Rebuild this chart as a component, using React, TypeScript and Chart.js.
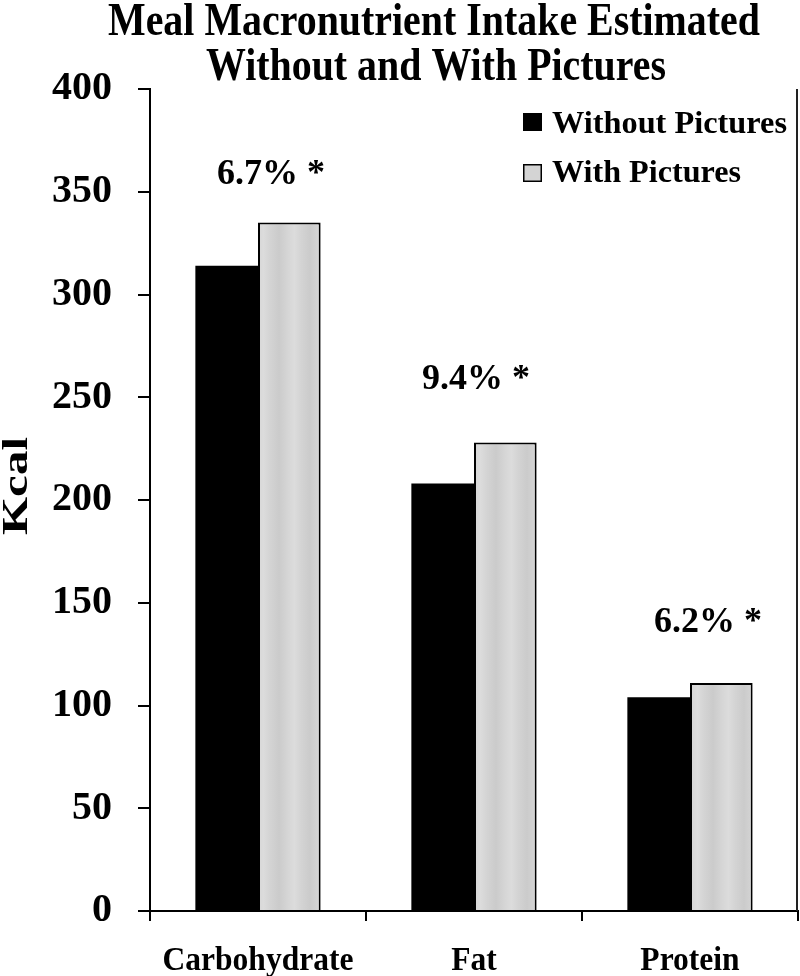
import React, { useEffect, useRef } from "react";
import { Chart, registerables } from "chart.js";

Chart.register(...registerables);

// ---------- data ----------
const categories = ["Carbohydrate", "Fat", "Protein"];
const seriesNames = ["Without Pictures", "With Pictures"];
const withoutPictures = [314, 208, 104];
const withPictures = [335, 228, 111];
const diffLabels = ["6.7% *", "9.4% *", "6.2% *"];
const diffLabelValues = [354, 254, 136]; // kcal level of label baseline
const diffLabelShift = [13, 2, 18]; // px shift from category centre
const titleLines = ["Meal Macronutrient Intake Estimated", "Without and With Pictures"];
const yAxisTitle = "Kcal";
const yMin = 0;
const yMax = 400;
const yStep = 50;

const FONT = '"Liberation Serif", "Times New Roman", serif';

function makeStripePattern(): CanvasPattern | string {
  const c = document.createElement("canvas");
  c.width = 31;
  c.height = 4;
  const g = c.getContext("2d");
  if (!g) return "#d2d2d2";
  const grad = g.createLinearGradient(0, 0, 31, 0);
  grad.addColorStop(0, "#cbcbcb");
  grad.addColorStop(0.3, "#d6d6d6");
  grad.addColorStop(0.5, "#dcdcdc");
  grad.addColorStop(0.7, "#d4d4d4");
  grad.addColorStop(1, "#cbcbcb");
  g.fillStyle = grad;
  g.fillRect(0, 0, 31, 4);
  const p = g.createPattern(c, "repeat");
  return p || "#d2d2d2";
}

function drawText(
  ctx: CanvasRenderingContext2D,
  text: string,
  x: number,
  y: number,
  size: number,
  align: CanvasTextAlign,
  sx = 1
) {
  ctx.save();
  ctx.font = `bold ${size}px ${FONT}`;
  ctx.fillStyle = "#000";
  ctx.textBaseline = "alphabetic";
  ctx.textAlign = align;
  ctx.translate(x, y);
  ctx.scale(sx, 1);
  ctx.fillText(text, 0, 0);
  ctx.restore();
}

function fitScale(ctx: CanvasRenderingContext2D, text: string, size: number, target: number) {
  ctx.save();
  ctx.font = `bold ${size}px ${FONT}`;
  const w = ctx.measureText(text).width;
  ctx.restore();
  return w > 0 ? target / w : 1;
}

const decorPlugin = {
  id: "decor",
  afterDraw(chart: any) {
    const ctx: CanvasRenderingContext2D = chart.ctx;
    const area = chart.chartArea;
    const xs = chart.scales.x;
    const ys = chart.scales.y;

    // right frame line
    ctx.save();
    ctx.strokeStyle = "#222";
    ctx.lineWidth = 2;
    ctx.beginPath();
    ctx.moveTo(area.right - 1, area.top);
    ctx.lineTo(area.right - 1, area.bottom);
    ctx.stroke();
    ctx.restore();

    // title
    const tsx = fitScale(ctx, titleLines[0], 46, 652);
    drawText(ctx, titleLines[0], 434, 35, 46, "center", tsx);
    drawText(ctx, titleLines[1], 436, 80, 46, "center", tsx);

    // y axis title (rotated)
    ctx.save();
    ctx.font = `bold 36px ${FONT}`;
    const kw = ctx.measureText(yAxisTitle).width;
    ctx.translate(27, 486);
    ctx.rotate(-Math.PI / 2);
    ctx.scale(98 / kw, 1);
    ctx.textAlign = "center";
    ctx.textBaseline = "alphabetic";
    ctx.fillStyle = "#000";
    ctx.fillText(yAxisTitle, 0, 0);
    ctx.restore();

    // x category labels
    const xsx = fitScale(ctx, categories[0], 34, 191);
    categories.forEach((c, i) => {
      drawText(ctx, c, xs.getPixelForValue(i), 970, 34, "center", xsx);
    });

    // difference labels
    diffLabels.forEach((t, i) => {
      drawText(
        ctx,
        t,
        xs.getPixelForValue(i) + diffLabelShift[i],
        ys.getPixelForValue(diffLabelValues[i]),
        36,
        "center"
      );
    });

    // legend
    ctx.save();
    ctx.fillStyle = "#000";
    ctx.fillRect(523, 113, 19, 18);
    ctx.fillStyle = "#d4d4d4";
    ctx.fillRect(523, 164, 19, 18);
    ctx.strokeStyle = "#000";
    ctx.lineWidth = 1.5;
    ctx.strokeRect(523.75, 164.75, 17.5, 16.5);
    ctx.restore();
    drawText(ctx, seriesNames[0], 552, 133, 32, "left", fitScale(ctx, seriesNames[0], 32, 235));
    drawText(ctx, seriesNames[1], 552, 182, 32, "left", fitScale(ctx, seriesNames[1], 32, 189));
  },
};

export default function App() {
  const ref = useRef<HTMLCanvasElement | null>(null);

  useEffect(() => {
    document.body.style.margin = "0";
    const canvas = ref.current;
    if (!canvas) return;
    const stripe = makeStripePattern();
    const chart = new Chart(canvas, {
      type: "bar",
      data: {
        labels: categories,
        datasets: [
          {
            label: seriesNames[0],
            data: withoutPictures,
            backgroundColor: "#000000",
            borderColor: "#000000",
            borderWidth: 0,
          },
          {
            label: seriesNames[1],
            data: withPictures,
            backgroundColor: stripe as any,
            borderColor: "#000000",
            borderWidth: 2,
          },
        ],
      },
      options: {
        responsive: false,
        animation: false,
        devicePixelRatio: 1,
        layout: { padding: { top: 89, right: 2, left: 0, bottom: 0 } },
        datasets: {
          bar: { categoryPercentage: 0.58, barPercentage: 1.0 },
        },
        plugins: {
          legend: { display: false },
          title: { display: false },
          tooltip: { enabled: false },
        },
        scales: {
          x: {
            type: "category",
            offset: true,
            grid: {
              display: true,
              offset: true,
              drawOnChartArea: false,
              drawTicks: true,
              tickLength: 10,
              color: "#000",
              lineWidth: 2,
            },
            border: { display: true, color: "#000", width: 2 },
            ticks: { display: false },
            afterFit: (s: any) => {
              s.height = 65;
            },
          },
          y: {
            min: yMin,
            max: yMax,
            ticks: {
              stepSize: yStep,
              color: "#000",
              padding: 26,
              font: { family: FONT, weight: "bold", size: 40 },
            },
            grid: {
              display: true,
              drawOnChartArea: false,
              drawTicks: true,
              tickLength: 12,
              color: "#000",
              lineWidth: 2,
            },
            border: { display: true, color: "#000", width: 2 },
            afterFit: (s: any) => {
              s.width = 150;
            },
          },
        },
      },
      plugins: [decorPlugin],
    });
    return () => chart.destroy();
  }, []);

  return (
    <div style={{ width: 800, height: 976, background: "#fff" }}>
      <canvas ref={ref} width={800} height={976} style={{ display: "block" }} />
    </div>
  );
}
